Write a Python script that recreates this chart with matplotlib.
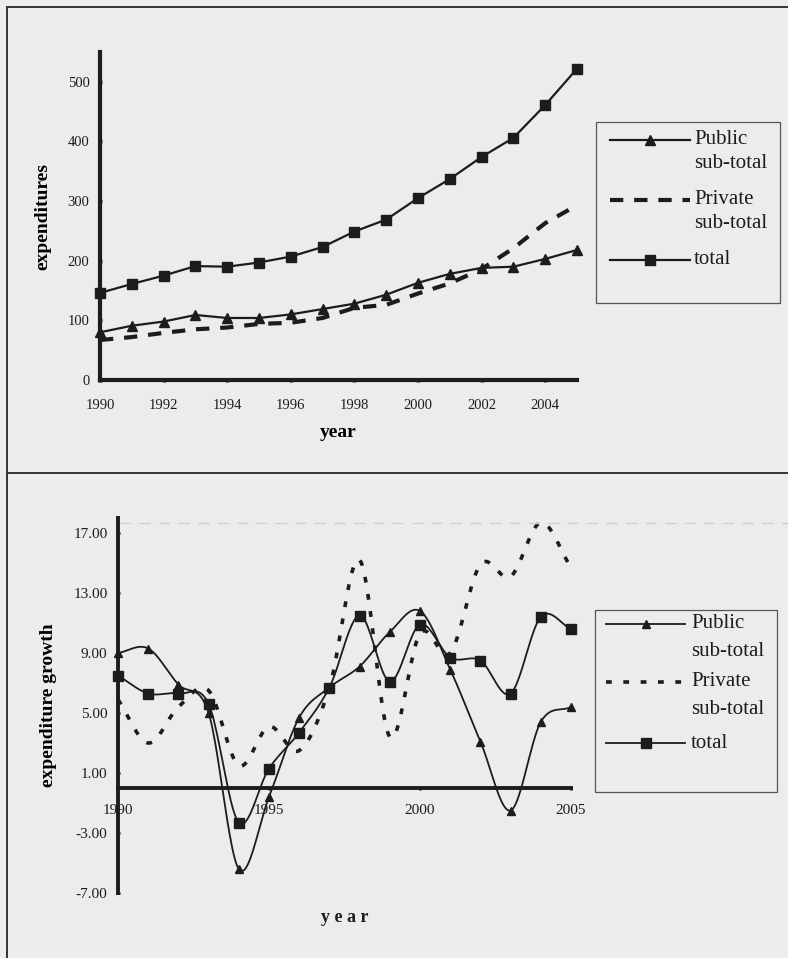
import numpy as np
import matplotlib.pyplot as plt
from matplotlib.lines import Line2D
from matplotlib.patches import Rectangle

plt.rcParams['font.family'] = ['Liberation Serif', 'DejaVu Serif']

BG = '#ececec'
INK = '#1c1c1c'

# expenditures by year
years = list(range(1990, 2006))
public_total = [80, 91, 98, 109, 104, 104, 110, 119, 128, 143, 163, 178, 188, 190, 203, 218]
private_total = [67, 72, 79, 85, 88, 94, 96, 104, 121, 126, 145, 162, 186, 221, 263, 293]
grand_total = [146, 161, 175, 191, 190, 197, 207, 223, 249, 269, 305, 337, 374, 406, 461, 522]
top_yticks = [0, 100, 200, 300, 400, 500]
top_xticks = [1990, 1992, 1994, 1996, 1998, 2000, 2002, 2004]

# expenditure growth by year
public_growth = [9.0, 9.3, 6.9, 5.0, -5.4, -0.6, 4.7, 6.7, 8.1, 10.4, 11.8, 7.9, 3.1, -1.5, 4.4, 5.4]
private_growth = [5.9, 3.0, 5.4, 6.5, 1.5, 4.1, 2.5, 6.7, 15.2, 3.4, 10.3, 9.0, 14.9, 14.1, 17.7, 14.7]
total_growth = [7.5, 6.3, 6.3, 5.6, -2.3, 1.3, 3.7, 6.7, 11.5, 7.1, 10.9, 8.7, 8.5, 6.3, 11.4, 10.6]
low_yticks = [-7, -3, 1, 5, 9, 13, 17]
low_xticks = [1990, 1995, 2000, 2005]

legend_labels = ['Public\nsub-total', 'Private\nsub-total', 'total']

W, H = 788, 958


def fx(v):
    return v / W


def fy(v):
    return 1 - v / H


def px_axes(fig, left, top, right, bottom):
    return fig.add_axes([fx(left), fy(bottom), (right - left) / W, (bottom - top) / H])


def smooth(x, y, n=24):
    # Catmull-Rom curve through the points (Excel-style smoothed line)
    x = np.asarray(x, float)
    y = np.asarray(y, float)
    px = np.concatenate([[2 * x[0] - x[1]], x, [2 * x[-1] - x[-2]]])
    py = np.concatenate([[2 * y[0] - y[1]], y, [2 * y[-1] - y[-2]]])
    t = np.linspace(0, 1, n)
    xs, ys = [], []
    for i in range(1, len(px) - 2):
        for arr, out in ((px, xs), (py, ys)):
            p0, p1, p2, p3 = arr[i - 1], arr[i], arr[i + 1], arr[i + 2]
            seg = 0.5 * ((2 * p1) + (-p0 + p2) * t + (2 * p0 - 5 * p1 + 4 * p2 - p3) * t ** 2
                         + (-p0 + 3 * p1 - 3 * p2 + p3) * t ** 3)
            out.extend(seg)
    return np.array(xs), np.array(ys)


def draw_legend(fig, box, styles, rows, x_handle, x_text, gap, size):
    l, t, r, b = box
    fig.add_artist(Rectangle((fx(l), fy(b)), (r - l) / W, (b - t) / H, transform=fig.transFigure,
                             fill=False, ec='#555555', lw=0.9))
    for style, label, y in zip(styles, legend_labels, rows):
        fig.add_artist(Line2D([fx(x_handle[0]), fx(x_handle[1])], [fy(y), fy(y)],
                              markevery=[], **style))
        if style.get('marker'):
            fig.add_artist(Line2D([fx((x_handle[0] + x_handle[1]) / 2)], [fy(y)], ls='none',
                                  color=style['color'], marker=style['marker'], ms=style['ms']))
        for k, line in enumerate(label.split('\n')):
            fig.text(fx(x_text), fy(y + k * gap), line, fontsize=size, color=INK,
                     ha='left', va='center')


fig = plt.figure(figsize=(W / 100, H / 100), dpi=100, facecolor=BG)

# panel frames
for xs_, ys_ in (([7, 7], [7, 958]), ([7, 788], [7, 7]), ([7, 788], [473, 473])):
    fig.add_artist(Line2D([fx(v) for v in xs_], [fy(v) for v in ys_], color='#333333', lw=1.4))
fig.add_artist(Line2D([fx(120), 1], [fy(523)] * 2, color='#cfcfcf', lw=1.0, ls=(0, (8, 6))))

# ---- top panel: expenditures ----
total_style = dict(color=INK, lw=1.6, marker='s', ms=7)
public_style = dict(color=INK, lw=1.6, marker='^', ms=6.5)
private_style = dict(color=INK, lw=3, ls=(0, (3.2, 2.6)))

ax1 = px_axes(fig, 100, 52, 577, 380)
ax1.set_facecolor('none')
ax1.set_xlim(1990, 2005)
ax1.set_ylim(0, 550)
ax1.plot(years, grand_total, clip_on=False, **total_style)
ax1.plot(years, public_total, clip_on=False, **public_style)
ax1.plot(years, private_total, clip_on=False, **private_style)
for s in ('top', 'right'):
    ax1.spines[s].set_visible(False)
for s in ('left', 'bottom'):
    ax1.spines[s].set_linewidth(3)
    ax1.spines[s].set_color(INK)
ax1.set_yticks(top_yticks)
ax1.set_xticks(top_xticks)
ax1.tick_params(length=3, width=2.5, direction='inout', labelsize=10.5, colors=INK, pad=6)
ax1.tick_params(axis='x', pad=12)
ax1.set_ylabel('expenditures', fontsize=14, fontweight='bold', labelpad=12)
ax1.set_xlabel('year', fontsize=14, fontweight='bold', labelpad=9)

# ---- bottom panel: expenditure growth ----
g_total_style = dict(color=INK, lw=1.3, marker='s', ms=6.5)
g_public_style = dict(color=INK, lw=1.3, marker='^', ms=6)
g_private_style = dict(color=INK, lw=2.6, ls=(0, (1.6, 3.2)))

ax2 = px_axes(fig, 118, 518, 571, 893)
ax2.set_facecolor('none')
ax2.set_xlim(1990, 2005)
ax2.set_ylim(-7, 18)
for vals, style in ((total_growth, g_total_style), (public_growth, g_public_style),
                    (private_growth, g_private_style)):
    gx, gy = smooth(years, vals)
    ax2.plot(gx, gy, color=INK, lw=style['lw'], ls=style.get('ls', '-'), clip_on=False)
    if style.get('marker'):
        ax2.plot(years, vals, ls='none', color=INK, marker=style['marker'], ms=style['ms'],
                 clip_on=False)
for s in ('top', 'right'):
    ax2.spines[s].set_visible(False)
ax2.spines['bottom'].set_position(('data', 0))
for s in ('left', 'bottom'):
    ax2.spines[s].set_linewidth(2.8)
    ax2.spines[s].set_color(INK)
ax2.set_yticks(low_yticks)
ax2.set_yticklabels([f'{v:.2f}' for v in low_yticks])
ax2.set_xticks(low_xticks)
ax2.tick_params(length=3, width=2, direction='inout', labelsize=11, colors=INK, pad=10)
ax2.tick_params(axis='y', pad=6)
ax2.set_ylabel('expenditure growth', fontsize=14, fontweight='bold', labelpad=12)
fig.text(fx(345), fy(918), 'y e a r', fontsize=13, fontweight='bold', ha='center', va='center',
         color=INK)

# ---- legends ----
draw_legend(fig, (596, 122, 780, 303), [public_style, private_style, total_style],
            [140, 200, 260], (610, 690), 694, 24, 15)
draw_legend(fig, (595, 610, 777, 792), [g_public_style, g_private_style, g_total_style],
            [624, 682, 743], (606, 685), 691, 27, 15)

fig.savefig('out.png', dpi=100, facecolor=BG)
